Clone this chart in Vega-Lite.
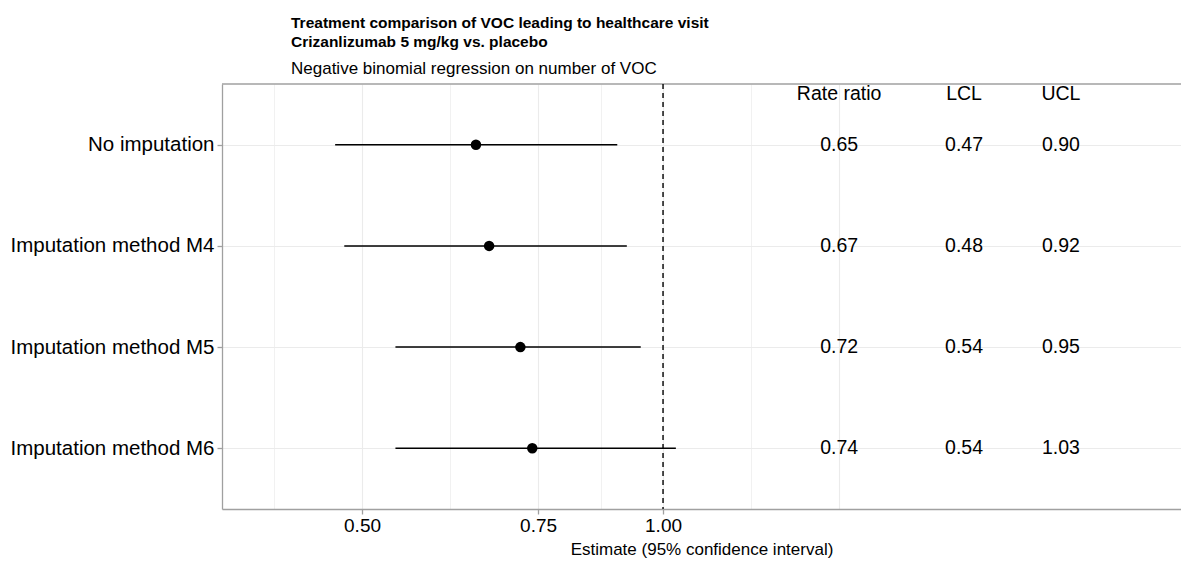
{
  "$schema": "https://vega.github.io/schema/vega-lite/v6.json",
  "width": 959,
  "height": 425,
  "autosize": {"type": "none"},
  "padding": {"left": 222, "top": 84, "right": 0, "bottom": 52},
  "background": "white",
  "config": {"font": "Liberation Sans", "view": {"stroke": null}},
  "title": {
    "text": ["Treatment comparison of VOC leading to healthcare visit", "Crizanlizumab 5 mg/kg vs. placebo"],
    "subtitle": "Negative binomial regression on number of VOC",
    "anchor": "start",
    "frame": "group",
    "dx": 69,
    "fontSize": 15.5,
    "fontWeight": "bold",
    "lineHeight": 19,
    "color": "black",
    "subtitleFontSize": 17,
    "subtitleColor": "black",
    "subtitlePadding": 11,
    "offset": 6
  },
  "datasets": {
    "estimates": [
      {"row": 1, "label": "No imputation", "est": 0.65, "lcl": 0.47, "ucl": 0.90},
      {"row": 2, "label": "Imputation method M4", "est": 0.67, "lcl": 0.48, "ucl": 0.92},
      {"row": 3, "label": "Imputation method M5", "est": 0.72, "lcl": 0.54, "ucl": 0.95},
      {"row": 4, "label": "Imputation method M6", "est": 0.74, "lcl": 0.54, "ucl": 1.03}
    ],
    "single": [{"ref": 1}]
  },
  "data": {"name": "estimates"},
  "layer": [
    {
      "mark": {"type": "rule", "color": "black", "strokeWidth": 1.5},
      "encoding": {
        "x": {
          "field": "lcl",
          "type": "quantitative",
          "scale": {"type": "log", "domain": [0.3622, 3.296], "nice": false, "zero": false},
          "axis": {
            "title": "Estimate (95% confidence interval)",
            "titleFontSize": 17,
            "titleFontWeight": "normal",
            "titleColor": "black",
            "titlePadding": 6,
            "values": [0.408, 0.5, 0.612, 0.75, 0.866, 1, 1.225, 1.5],
            "labelExpr": "(datum.value == 0.5 || datum.value == 0.75 || datum.value == 1) ? format(datum.value, '.2f') : ''",
            "labelFontSize": 19,
            "labelColor": "black",
            "labelPadding": 2,
            "labelFlush": false,
            "labelOverlap": false,
            "domainColor": "#a0a0a0",
            "domainWidth": 1.3,
            "tickColor": "#a0a0a0",
            "tickSize": 5,
            "tickWidth": 1.3,
            "tickOpacity": {"condition": {"test": "datum.value == 0.5 || datum.value == 0.75 || datum.value == 1", "value": 1}, "value": 0},
            "grid": true,
            "gridColor": "#ebebeb",
            "gridWidth": {"condition": {"test": "datum.value == 0.5 || datum.value == 0.75 || datum.value == 1 || datum.value == 1.5", "value": 1.1}, "value": 0.7}
          }
        },
        "x2": {"field": "ucl"},
        "y": {
          "field": "row",
          "type": "quantitative",
          "scale": {"domain": [0.4, 4.6], "reverse": true, "nice": false, "zero": false},
          "axis": {
            "title": null,
            "values": [1, 2, 3, 4],
            "labelExpr": "datum.value == 1 ? 'No imputation' : datum.value == 2 ? 'Imputation method M4' : datum.value == 3 ? 'Imputation method M5' : 'Imputation method M6'",
            "labelFontSize": 20.5,
            "labelLimit": 0,
            "labelColor": "black",
            "labelPadding": 3,
            "domainColor": "#a0a0a0",
            "domainWidth": 1.3,
            "tickColor": "#a0a0a0",
            "tickSize": 5,
            "tickWidth": 1.3,
            "grid": true,
            "gridColor": "#ebebeb",
            "gridWidth": 1.1
          }
        }
      }
    },
    {
      "data": {"name": "single"},
      "mark": {"type": "rule", "color": "#a0a0a0", "strokeWidth": 1.3},
      "encoding": {"y": {"datum": 0.4, "type": "quantitative"}}
    },
    {
      "data": {"name": "single"},
      "mark": {"type": "rule", "color": "black", "strokeWidth": 1.4, "strokeDash": [5, 4]},
      "encoding": {"x": {"field": "ref", "type": "quantitative"}}
    },
    {
      "mark": {"type": "point", "filled": true, "color": "black", "opacity": 1, "size": 110},
      "encoding": {
        "x": {"field": "est", "type": "quantitative"},
        "y": {"field": "row", "type": "quantitative"}
      }
    },
    {
      "mark": {"type": "text", "fontSize": 19.5, "color": "black", "align": "center", "baseline": "middle"},
      "encoding": {
        "x": {"datum": 1.5, "type": "quantitative"},
        "y": {"field": "row", "type": "quantitative"},
        "text": {"field": "est", "type": "quantitative", "format": ".2f"}
      }
    },
    {
      "mark": {"type": "text", "fontSize": 19.5, "color": "black", "align": "center", "baseline": "middle"},
      "encoding": {
        "x": {"datum": 2, "type": "quantitative"},
        "y": {"field": "row", "type": "quantitative"},
        "text": {"field": "lcl", "type": "quantitative", "format": ".2f"}
      }
    },
    {
      "mark": {"type": "text", "fontSize": 19.5, "color": "black", "align": "center", "baseline": "middle"},
      "encoding": {
        "x": {"datum": 2.5, "type": "quantitative"},
        "y": {"field": "row", "type": "quantitative"},
        "text": {"field": "ucl", "type": "quantitative", "format": ".2f"}
      }
    },
    {
      "data": {"name": "single"},
      "mark": {"type": "text", "fontSize": 19.5, "color": "black", "align": "center", "baseline": "middle", "text": "Rate ratio"},
      "encoding": {
        "x": {"datum": 1.5, "type": "quantitative"},
        "y": {"datum": 0.5, "type": "quantitative"}
      }
    },
    {
      "data": {"name": "single"},
      "mark": {"type": "text", "fontSize": 19.5, "color": "black", "align": "center", "baseline": "middle", "text": "LCL"},
      "encoding": {
        "x": {"datum": 2, "type": "quantitative"},
        "y": {"datum": 0.5, "type": "quantitative"}
      }
    },
    {
      "data": {"name": "single"},
      "mark": {"type": "text", "fontSize": 19.5, "color": "black", "align": "center", "baseline": "middle", "text": "UCL"},
      "encoding": {
        "x": {"datum": 2.5, "type": "quantitative"},
        "y": {"datum": 0.5, "type": "quantitative"}
      }
    }
  ]
}
